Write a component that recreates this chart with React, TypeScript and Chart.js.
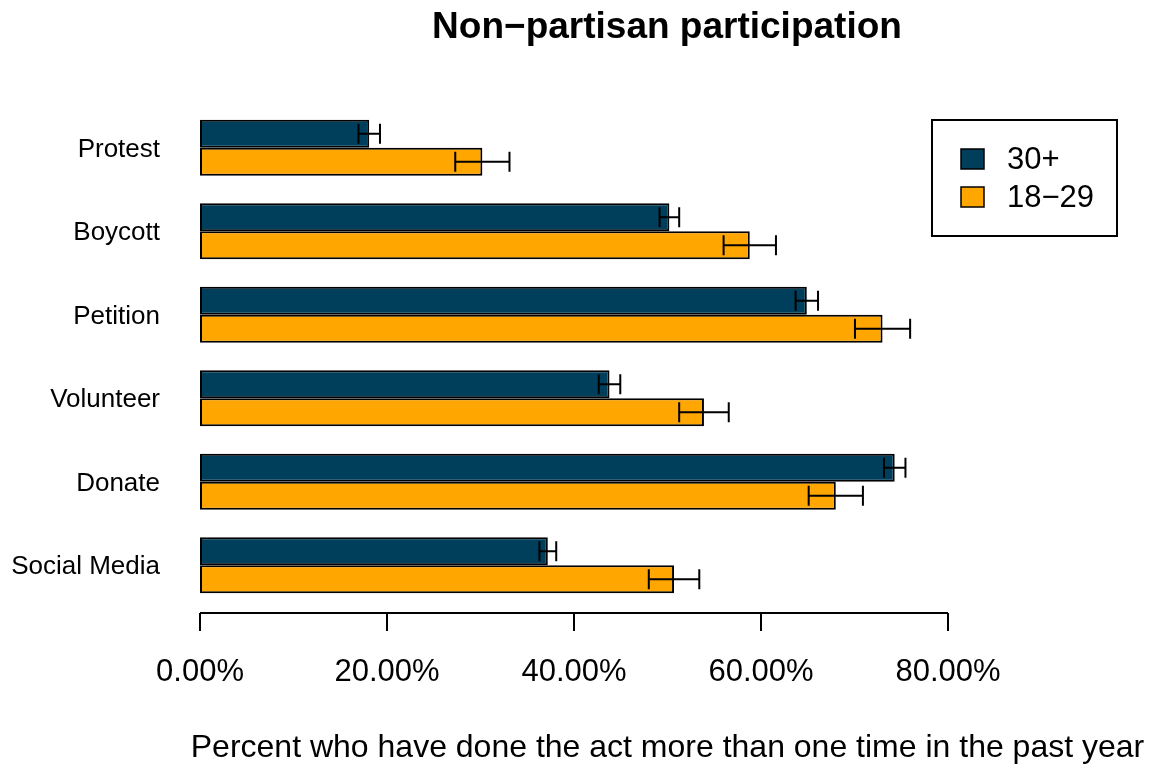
import React, { useEffect, useRef } from "react";
import { Chart, registerables } from "chart.js";

Chart.register(...registerables);

const categories = ["Protest", "Boycott", "Petition", "Volunteer", "Donate", "Social Media"];
const seriesNames = ["30+", "18\u221229"];
const olderValues = [18.1, 50.2, 64.9, 43.8, 74.3, 37.2];
const olderErrors = [1.15, 1.05, 1.2, 1.15, 1.15, 0.9];
const youngValues = [30.2, 58.8, 73.0, 53.9, 68.0, 50.7];
const youngErrors = [2.9, 2.8, 2.95, 2.65, 2.9, 2.7];
const xTickValues = [0, 20, 40, 60, 80];
const chartTitle = "Non\u2212partisan participation";
const xAxisTitle = "Percent who have done the act more than one time in the past year";
const seriesColors = ["#003F5C", "#FFA600"];

const FONT = "'Liberation Sans', Arial, Helvetica, sans-serif";

const overlayPlugin = {
  id: "overlay",
  afterDatasetsDraw(chart: any) {
    const ctx = chart.ctx;
    const xs = chart.scales.x;
    const errs = [olderErrors, youngErrors];
    chart.data.datasets.forEach((ds: any, i: number) => {
      const meta = chart.getDatasetMeta(i);
      meta.data.forEach((el: any, j: number) => {
        const v = ds.data[j];
        const e = errs[i][j];
        const x1 = xs.getPixelForValue(v - e);
        const x2 = xs.getPixelForValue(v + e);
        const y = el.y;
        ctx.save();
        ctx.strokeStyle = "#000";
        ctx.lineWidth = 2;
        ctx.beginPath();
        ctx.moveTo(x1, y);
        ctx.lineTo(x2, y);
        ctx.moveTo(x1, y - 10);
        ctx.lineTo(x1, y + 10);
        ctx.moveTo(x2, y - 10);
        ctx.lineTo(x2, y + 10);
        ctx.stroke();
        ctx.restore();
      });
    });
  },
  afterDraw(chart: any) {
    const ctx = chart.ctx;
    const xs = chart.scales.x;
    const area = chart.chartArea;
    ctx.save();
    // x axis line and ticks (R style)
    const axisY = area.bottom + 6;
    ctx.strokeStyle = "#000";
    ctx.lineWidth = 2;
    ctx.beginPath();
    ctx.moveTo(xs.getPixelForValue(xTickValues[0]), axisY);
    ctx.lineTo(xs.getPixelForValue(xTickValues[xTickValues.length - 1]), axisY);
    xTickValues.forEach((t) => {
      const px = xs.getPixelForValue(t);
      ctx.moveTo(px, axisY);
      ctx.lineTo(px, axisY + 18);
    });
    ctx.stroke();

    // title
    ctx.fillStyle = "#000";
    ctx.textAlign = "center";
    ctx.textBaseline = "alphabetic";
    ctx.font = `bold 37px ${FONT}`;
    ctx.fillText(chartTitle, 667, 38);

    // x axis title
    ctx.font = `32px ${FONT}`;
    ctx.fillText(xAxisTitle, 667.5, 757);

    // legend
    ctx.lineWidth = 2;
    ctx.strokeRect(932, 120, 185, 116);
    const rows = [159, 197];
    seriesNames.forEach((name, i) => {
      const cy = rows[i];
      ctx.fillStyle = seriesColors[i];
      ctx.fillRect(961, cy - 10, 23, 20);
      ctx.lineWidth = 1.5;
      ctx.strokeStyle = "#000";
      ctx.strokeRect(961, cy - 10, 23, 20);
      ctx.fillStyle = "#000";
      ctx.textAlign = "left";
      ctx.textBaseline = "middle";
      ctx.font = `31px ${FONT}`;
      ctx.fillText(name, 1007, cy + 1);
    });
    ctx.restore();
  },
};

export default function App() {
  const canvasRef = useRef<HTMLCanvasElement | null>(null);

  useEffect(() => {
    if (!canvasRef.current) return;
    Chart.defaults.font.family = FONT;
    const chart = new Chart(canvasRef.current, {
      type: "bar",
      data: {
        labels: categories,
        datasets: [
          {
            label: seriesNames[0],
            data: olderValues,
            backgroundColor: seriesColors[0],
            borderColor: "#000",
            borderWidth: 2,
            borderSkipped: false,
          },
          {
            label: seriesNames[1],
            data: youngValues,
            backgroundColor: seriesColors[1],
            borderColor: "#000",
            borderWidth: 2,
            borderSkipped: false,
          },
        ],
      },
      options: {
        indexAxis: "y",
        responsive: false,
        animation: false,
        events: [],
        layout: { padding: { top: 106, right: 201, bottom: 0, left: 0 } },
        datasets: {
          bar: { categoryPercentage: 0.67, barPercentage: 1.0 },
        },
        plugins: {
          legend: { display: false },
          title: { display: false },
          tooltip: { enabled: false },
        },
        scales: {
          x: {
            type: "linear",
            min: 0,
            max: 80,
            afterBuildTicks: (scale: any) => {
              scale.ticks = xTickValues.map((v) => ({ value: v }));
            },
            afterFit: (scale: any) => {
              scale.height = 160;
            },
            grid: { display: false, drawTicks: false },
            border: { display: false },
            ticks: {
              color: "#000",
              font: { size: 31, family: FONT },
              padding: 47,
              maxRotation: 0,
              autoSkip: false,
              callback: (v: any) => Number(v).toFixed(2) + "%",
            },
          },
          y: {
            type: "category",
            afterFit: (scale: any) => {
              scale.width = 200;
            },
            grid: { display: false, drawTicks: false },
            border: { display: false },
            ticks: {
              color: "#000",
              font: { size: 26, family: FONT },
              padding: 40,
              labelOffset: 2,
            },
          },
        },
      },
      plugins: [overlayPlugin],
    } as any);
    return () => chart.destroy();
  }, []);

  return (
    <div style={{ position: "fixed", left: 0, top: 0, width: 1149, height: 767, background: "#fff" }}>
      <canvas ref={canvasRef} width={1149} height={767} style={{ display: "block" }} />
    </div>
  );
}
